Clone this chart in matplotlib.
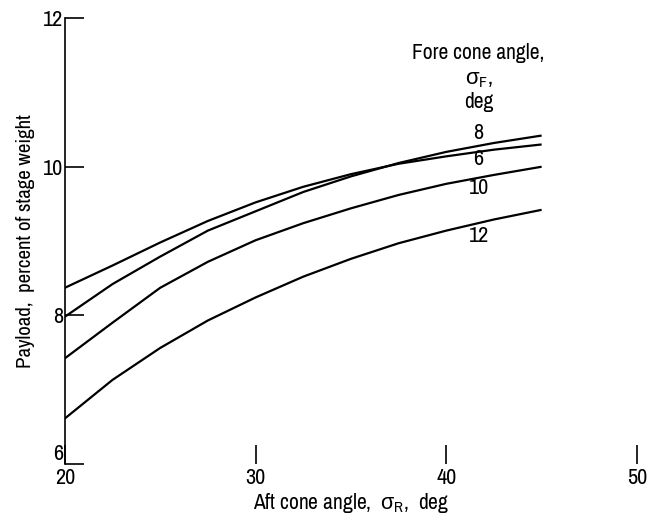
import numpy as np
import matplotlib
matplotlib.use("Agg")
import matplotlib.pyplot as plt
from matplotlib import font_manager

# узкий шрифт, если есть
narrow = None
for f in font_manager.fontManager.ttflist:
    if "Narrow" in f.name or "Condensed" in f.name:
        narrow = f.name
        break

fam = narrow if narrow else "DejaVu Sans"
plt.rcParams['font.family'] = [fam, 'DejaVu Sans']
plt.rcParams['font.stretch'] = 'condensed'
plt.rcParams['mathtext.fontset'] = 'custom'
plt.rcParams['mathtext.rm'] = fam
# греческие буквы берутся из "it", у узкого шрифта их нет
plt.rcParams['mathtext.it'] = 'Liberation Sans'

# aft cone angle, deg
aft_angle = [20, 22.5, 25, 27.5, 30, 32.5, 35, 37.5, 40, 42.5, 45]

# payload, percent of stage weight, for each fore cone angle
payload_6 = [8.37, 8.67, 8.98, 9.27, 9.52, 9.73, 9.90, 10.04, 10.14, 10.23, 10.30]
payload_8 = [7.98, 8.42, 8.79, 9.14, 9.40, 9.66, 9.87, 10.05, 10.20, 10.32, 10.42]
payload_10 = [7.42, 7.90, 8.37, 8.72, 9.01, 9.24, 9.44, 9.62, 9.77, 9.89, 10.00]
payload_12 = [6.61, 7.13, 7.56, 7.93, 8.24, 8.52, 8.76, 8.97, 9.14, 9.29, 9.42]

curve_labels = ["8", "6", "10", "12"]
label_pos = [10.46, 10.10, 9.71, 9.07]

fig = plt.figure(figsize=(6.48, 5.2), dpi=100)
ax = fig.add_axes([0.100, 0.108, 0.883, 0.857])

for yv in (payload_6, payload_8, payload_10, payload_12):
    ax.plot(aft_angle, yv, color="black", lw=1.6, solid_capstyle="butt")

ax.set_xlim(20, 50)
ax.set_ylim(6, 12)
ax.set_xticks([20, 30, 40, 50])
ax.set_yticks([6, 8, 10, 12])

for s in ("top", "right", "bottom"):
    ax.spines[s].set_visible(False)
ax.spines["left"].set_linewidth(1.2)

ax.tick_params(axis="both", direction="in", length=14, width=1.2,
               labelsize=16)
ax.tick_params(axis="x", pad=3)
ax.tick_params(axis="y", pad=1)
# "6" чуть выше, чтобы не наезжала на "20"
ax.get_yticklabels()[0].set_verticalalignment("bottom")

# curve labels
for lab, yv in zip(curve_labels, label_pos):
    ax.text(41.7, yv, lab, fontsize=16, ha="center", va="center")

ax.text(41.7, 11.53, "Fore cone angle,", fontsize=15.5, ha="center", va="center")
ax.text(41.7, 11.17, r"$\sigma_{\mathrm{F}}$,", fontsize=16, ha="center", va="center")
ax.text(41.7, 10.87, "deg", fontsize=15.5, ha="center", va="center")

ax.set_xlabel(r"Aft cone angle,  $\sigma_{\mathrm{R}}$,  deg", fontsize=15.5, labelpad=2)
ax.set_ylabel("Payload,  percent of stage weight", fontsize=15, labelpad=6)

fig.savefig("out.png", dpi=100)
